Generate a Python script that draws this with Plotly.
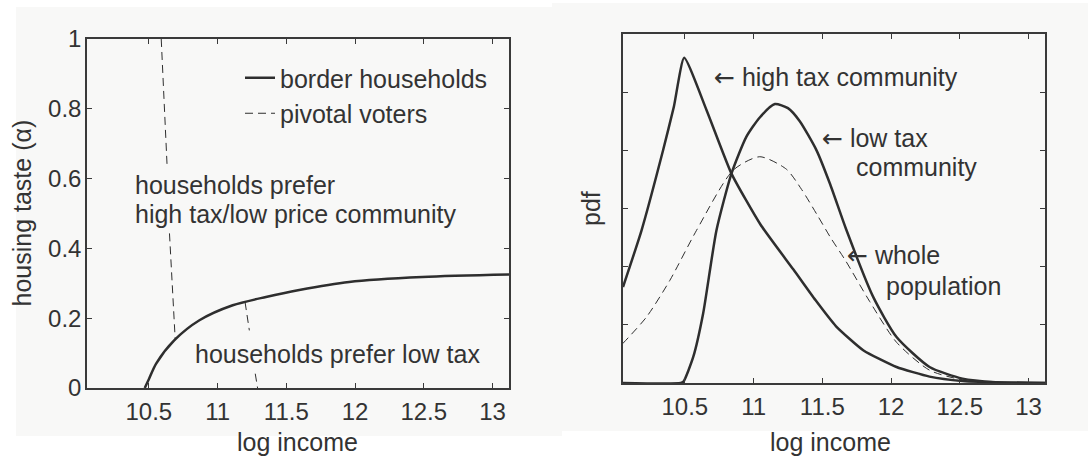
import plotly.graph_objects as go

# ---- left panel: sorting of households by income and housing taste ----
border_income = [10.47, 10.50, 10.553, 10.686, 10.868, 11.11, 11.352, 11.594, 11.957, 12.49, 13.12]
border_alpha = [0.0, 0.025, 0.070, 0.137, 0.194, 0.237, 0.261, 0.281, 0.304, 0.318, 0.325]

# pivotal voter loci; None leaves room for the region labels
pivot_high_income = [10.590, 10.611, 10.633, None, 10.650, 10.692]
pivot_high_alpha = [1.0, 0.82, 0.634, None, 0.443, 0.137]

pivot_low_income = [11.200, 11.231, None, 11.274, 11.291]
pivot_low_alpha = [0.246, 0.165, None, 0.041, 0.0]

# ---- right panel: income densities ----
high_tax_income = [10.05, 10.185, 10.342, 10.42, 10.495, 10.658, 10.839, 11.05, 11.29, 11.45,
                   11.6, 11.8, 12.04, 12.28, 12.52, 12.8, 13.12]
high_tax_pdf = [0.330, 0.525, 0.801, 0.95, 1.118, 0.938, 0.720, 0.545, 0.39, 0.285,
                0.195, 0.112, 0.055, 0.022, 0.007, 0.002, 0.0]

low_tax_income = [10.05, 10.47, 10.49, 10.561, 10.633, 10.730, 10.839, 10.948, 11.045, 11.155,
                  11.25, 11.336, 11.458, 11.555, 11.676, 11.87, 12.04, 12.28, 12.52, 12.76, 13.12]
low_tax_pdf = [0.0, 0.0, 0.005, 0.0895, 0.239, 0.525, 0.720, 0.847, 0.913, 0.959,
               0.945, 0.900, 0.800, 0.686, 0.525, 0.296, 0.158, 0.055, 0.015, 0.003, 0.0]

population_income = [10.047, 10.221, 10.391, 10.585, 10.852, 11.045, 11.239, 11.35, 11.46, 11.56,
                      11.67, 11.845, 12.04, 12.28, 12.52, 12.8, 13.12]
population_pdf = [0.135, 0.227, 0.353, 0.525, 0.732, 0.778, 0.735, 0.665, 0.58, 0.50,
                  0.42, 0.28, 0.14, 0.044, 0.011, 0.002, 0.0]

income_ticks = [10.5, 11, 11.5, 12, 12.5, 13]
income_tick_text = ["10.5", "11", "11.5", "12", "12.5", "13"]
alpha_ticks = [0, 0.2, 0.4, 0.6, 0.8, 1]
pdf_ticks = [0, 0.2, 0.4, 0.6, 0.8, 1.0, 1.2]

W, H = 1088, 457
BG = "#f8f8f7"
INK = "#2e2e2e"
TXT = "#333333"
FONT = "Liberation Sans, Arial, sans-serif"
FS = 25
TICK_FS = 24
DASH = "8px,5px"
ARROW = '<span style="font-family:DejaVu Sans">←</span>'


def px_x(p):
    return p / W


def px_y(p):
    return 1 - p / H


fig = go.Figure()

fig.add_trace(go.Scatter(x=border_income, y=border_alpha, mode="lines", name="border households",
                         line=dict(color=INK, width=2.5, shape="spline", smoothing=0.8),
                         xaxis="x", yaxis="y"))
fig.add_trace(go.Scatter(x=pivot_high_income, y=pivot_high_alpha, mode="lines", name="pivotal voters",
                         line=dict(color=INK, width=1, dash=DASH), xaxis="x", yaxis="y"))
fig.add_trace(go.Scatter(x=pivot_low_income, y=pivot_low_alpha, mode="lines", name="pivotal voters",
                         showlegend=False, line=dict(color=INK, width=1, dash=DASH),
                         xaxis="x", yaxis="y"))

fig.add_trace(go.Scatter(x=high_tax_income, y=high_tax_pdf, mode="lines", showlegend=False,
                         line=dict(color=INK, width=2.5, shape="spline", smoothing=0.5),
                         xaxis="x2", yaxis="y2"))
fig.add_trace(go.Scatter(x=low_tax_income, y=low_tax_pdf, mode="lines", showlegend=False,
                         line=dict(color=INK, width=2.5, shape="spline", smoothing=0.6),
                         xaxis="x2", yaxis="y2"))
fig.add_trace(go.Scatter(x=population_income, y=population_pdf, mode="lines", showlegend=False,
                         line=dict(color=INK, width=1, dash=DASH, shape="spline", smoothing=0.7),
                         xaxis="x2", yaxis="y2"))

axis_common = dict(showline=True, linecolor="#3a3a3a", linewidth=1.5, mirror="ticks",
                   ticks="inside", ticklen=5, tickcolor="#3a3a3a", tickwidth=1,
                   showgrid=False, zeroline=False,
                   tickfont=dict(family=FONT, size=TICK_FS, color=TXT))

fig.update_layout(
    width=W, height=H,
    margin=dict(l=0, r=0, t=0, b=0, autoexpand=False),
    paper_bgcolor="white",
    plot_bgcolor=BG,
    showlegend=True,
    legend=dict(x=px_x(240), y=px_y(55), xanchor="left", yanchor="top",
                bgcolor="rgba(0,0,0,0)", borderwidth=0,
                font=dict(family=FONT, size=FS, color=TXT)),
    xaxis=dict(domain=[px_x(87), px_x(509)], range=[10.05, 13.12], anchor="y",
               tickvals=income_ticks, ticktext=income_tick_text, ticklabelstandoff=1, **axis_common),
    yaxis=dict(domain=[px_y(388), px_y(39)], range=[0, 1], anchor="x",
               tickvals=alpha_ticks, ticklabelstandoff=-1, **axis_common),
    xaxis2=dict(domain=[px_x(623), px_x(1045)], range=[10.05, 13.12], anchor="y2",
                tickvals=income_ticks, ticktext=income_tick_text, ticklabelstandoff=1, **axis_common),
    yaxis2=dict(domain=[px_y(383), px_y(34)], range=[0, 1.2], anchor="x2",
                tickvals=pdf_ticks, showticklabels=False, **axis_common),
)

# light backdrops behind each panel
fig.add_shape(type="rect", xref="paper", yref="paper", x0=px_x(552), x1=px_x(1088),
              y0=px_y(431), y1=px_y(3), fillcolor=BG, line_width=0, layer="below")
fig.add_shape(type="rect", xref="paper", yref="paper", x0=px_x(16), x1=px_x(562),
              y0=px_y(436), y1=px_y(7), fillcolor=BG, line_width=0, layer="below")


def label(text, x, y, xref="paper", yref="paper", xanchor="center", angle=0, size=FS):
    fig.add_annotation(text=text, x=x, y=y, xref=xref, yref=yref, xanchor=xanchor,
                       yanchor="middle", showarrow=False, textangle=angle, borderpad=0,
                       align="left", font=dict(family=FONT, size=size, color=TXT))


# axis titles
label("housing taste (α)", px_x(21), px_y(213.5), angle=-90)
label("log income", px_x(297), px_y(442))
label("pdf", px_x(590.5), px_y(208.5), angle=-90)
label("log income", px_x(830), px_y(442))

# region labels, left panel; the two-line block uses a smaller base size so the
# line pitch stays tight, while each line is set at full size
big = '<span style="font-size:%dpx">%s</span>'
label(big % (FS, "households prefer") + "<br>" + big % (FS, "high tax/low price community"),
      10.389, 0.5397, xref="x", yref="y", xanchor="left", size=22.3)
label("households prefer low tax", 10.8266, 0.0975, xref="x", yref="y", xanchor="left")

# curve labels, right panel
label(ARROW + " high tax community", 10.7015, 1.0511, xref="x2", yref="y2", xanchor="left")
label(ARROW + " low tax", 11.494, 0.8390, xref="x2", yref="y2", xanchor="left")
label("community", 11.736, 0.7417, xref="x2", yref="y2", xanchor="left")
label(ARROW + " whole", 11.671, 0.4380, xref="x2", yref="y2", xanchor="left")
label("population", 11.955, 0.3349, xref="x2", yref="y2", xanchor="left")

fig.write_html("out.html")
